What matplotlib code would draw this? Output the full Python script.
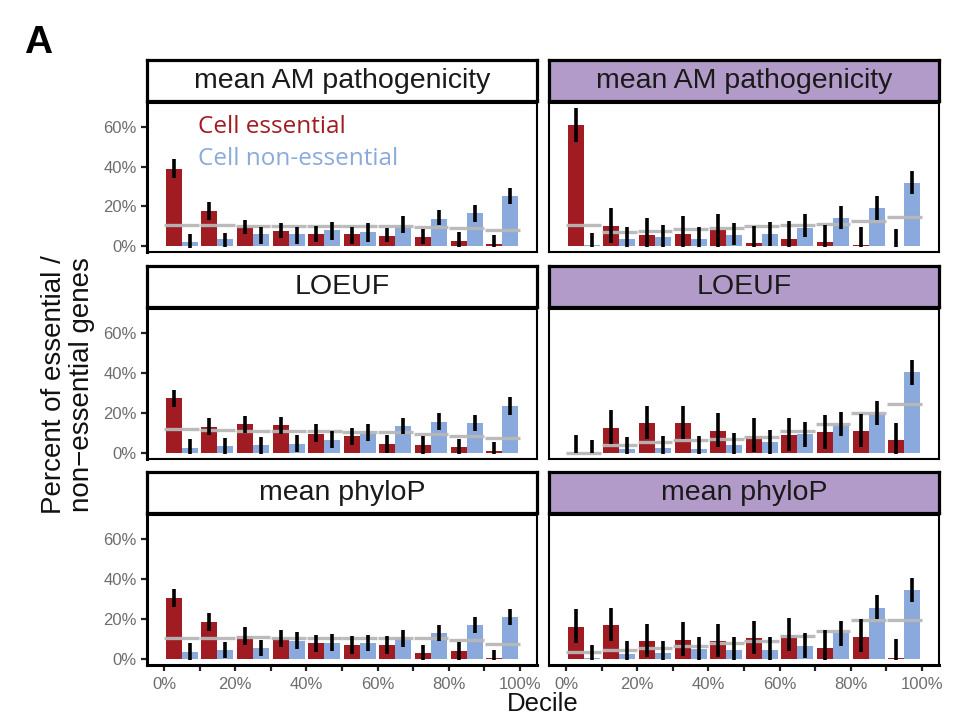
import matplotlib
matplotlib.use("Agg")
import matplotlib.pyplot as plt
import numpy as np

plt.rcParams['font.family'] = ['Liberation Sans', 'DejaVu Sans']

# ---------------- data ----------------
deciles = np.arange(10)
metrics = ["mean AM pathogenicity", "LOEUF", "mean phyloP"]
x_tick_pos = [0, 10, 20, 30, 40, 50, 60, 70, 80, 90, 100]
x_tick_labels = ["0%", "", "20%", "", "40%", "", "60%", "", "80%", "", "100%"]
y_tick_pos = [0, 20, 40, 60]
y_tick_labels = ["0%", "20%", "40%", "60%"]

# mean AM pathogenicity, white strip
am_w_ess = [39.0, 17.6, 9.8, 7.4, 6.2, 5.9, 5.0, 4.7, 2.7, 0.9]
am_w_ess_lo = [34.5, 13.1, 6.3, 3.9, 1.8, 1.0, 2.0, 0.8, -0.5, -0.5]
am_w_ess_hi = [43.7, 22.4, 13.3, 11.7, 9.9, 9.6, 9.3, 8.8, 7.0, 5.4]
am_w_non = [2.0, 3.7, 5.9, 5.9, 7.9, 6.9, 10.1, 13.8, 16.5, 25.2]
am_w_non_lo = [-0.8, -0.5, 0.9, 1.0, 3.0, 2.0, 6.8, 10.4, 12.3, 21.3]
am_w_non_hi = [6.2, 6.6, 9.6, 9.6, 12.0, 11.5, 15.1, 18.2, 20.7, 29.5]
am_w_null = [10.4, 10.4, 10.3, 10.3, 10.3, 10.2, 10.0, 9.8, 9.0, 7.9]

# mean AM pathogenicity, purple strip
am_p_ess = [61.0, 10.1, 5.4, 6.2, 7.9, 1.3, 3.7, 2.0, 0.5, 0.1]
am_p_ess_lo = [52.4, 1.7, -0.5, -0.5, -0.3, -0.5, -0.3, -0.5, -0.5, -0.5]
am_p_ess_hi = [69.7, 19.3, 14.3, 15.1, 16.4, 10.0, 12.8, 10.7, 9.6, 8.7]
am_p_non = [0.5, 3.4, 4.4, 3.5, 5.5, 5.9, 9.2, 14.1, 19.3, 31.9]
am_p_non_lo = [-0.5, -0.5, -0.3, -0.5, 0.3, 0.0, 4.5, 8.4, 13.4, 26.4]
am_p_non_hi = [6.7, 9.6, 10.4, 9.7, 11.7, 12.0, 16.3, 20.1, 25.2, 38.1]
am_p_null = [10.4, 7.1, 7.4, 8.4, 9.2, 9.9, 10.4, 11.2, 12.4, 14.8]

# LOEUF, white strip
lo_w_ess = [27.4, 13.2, 14.3, 13.8, 9.7, 8.3, 4.5, 3.8, 2.8, 1.2]
lo_w_ess_lo = [23.0, 8.8, 10.0, 9.7, 5.5, 3.8, 0.2, -0.3, -0.5, -0.3]
lo_w_ess_hi = [31.8, 17.7, 18.7, 18.3, 14.3, 12.7, 8.8, 8.3, 7.2, 5.5]
lo_w_non = [2.7, 3.5, 3.8, 4.7, 6.7, 9.7, 13.5, 15.5, 15.0, 23.7]
lo_w_non_lo = [-0.5, -0.3, -0.3, 0.5, 2.5, 6.0, 9.3, 11.7, 10.8, 19.3]
lo_w_non_hi = [7.2, 7.7, 8.0, 8.8, 10.8, 14.7, 17.7, 20.0, 19.3, 28.0]
lo_w_null = [12.2, 11.3, 11.0, 10.8, 10.8, 10.5, 10.5, 9.7, 8.3, 7.7]

# LOEUF, purple strip
lo_p_ess = [0.0, 12.7, 15.2, 15.2, 11.2, 8.7, 8.8, 10.5, 11.2, 6.5]
lo_p_ess_lo = [0.0, 4.7, 7.2, 7.2, 3.0, 0.5, 0.8, 2.2, 3.0, -0.5]
lo_p_ess_hi = [8.8, 21.7, 23.8, 23.8, 20.0, 17.5, 17.5, 19.2, 19.7, 15.2]
lo_p_non = [0.0, 1.8, 2.3, 2.0, 3.8, 5.5, 9.5, 14.2, 19.8, 40.5]
lo_p_non_lo = [0.0, -0.5, -0.5, -0.5, -0.5, -0.3, 3.0, 8.5, 13.8, 34.3]
lo_p_non_hi = [6.3, 8.0, 8.5, 8.3, 10.0, 11.7, 15.5, 20.8, 26.3, 46.7]
lo_p_null = [0.0, 3.8, 5.5, 6.3, 7.0, 8.0, 10.8, 14.3, 20.2, 24.7]

# mean phyloP, white strip
ph_w_ess = [30.8, 18.7, 11.5, 10.3, 7.8, 6.8, 7.0, 2.8, 3.8, 0.3]
ph_w_ess_lo = [26.3, 14.0, 7.0, 5.8, 3.3, 2.5, 2.5, -0.5, -0.3, -0.5]
ph_w_ess_hi = [35.3, 23.3, 15.8, 14.7, 12.2, 11.3, 11.7, 7.2, 8.3, 4.7]
ph_w_non = [3.5, 4.3, 5.3, 9.2, 8.0, 8.0, 10.3, 12.8, 17.0, 21.2]
ph_w_non_lo = [-0.5, 0.5, 1.3, 5.0, 3.8, 3.8, 6.2, 8.8, 13.0, 17.0]
ph_w_non_hi = [7.8, 8.7, 9.5, 13.3, 12.3, 12.2, 14.7, 17.2, 21.3, 25.3]
ph_w_null = [10.5, 10.5, 11.0, 10.3, 10.5, 10.5, 10.7, 10.3, 9.5, 7.5]

# mean phyloP, purple strip
ph_p_ess = [15.8, 17.0, 8.8, 9.5, 8.8, 10.5, 12.0, 5.5, 11.2, 0.5]
ph_p_ess_lo = [7.8, 8.8, 0.8, 1.7, 0.8, 2.5, 3.8, -0.5, 3.3, -0.5]
ph_p_ess_hi = [25.0, 25.8, 17.8, 18.7, 17.8, 19.2, 20.8, 14.5, 20.0, 10.0]
ph_p_non = [0.3, 2.5, 2.8, 5.0, 4.7, 4.7, 6.3, 12.8, 25.8, 34.5]
ph_p_non_lo = [-0.5, -0.5, -0.5, -0.5, -0.5, -0.5, 0.3, 6.7, 20.0, 28.5]
ph_p_non_hi = [7.0, 9.0, 9.2, 11.2, 11.2, 11.2, 12.8, 19.2, 32.0, 40.8]
ph_p_null = [3.7, 4.7, 5.3, 6.7, 8.0, 8.8, 11.7, 14.2, 19.5, 19.8]

panels = [
    [(am_w_ess, am_w_ess_lo, am_w_ess_hi, am_w_non, am_w_non_lo, am_w_non_hi, am_w_null),
     (am_p_ess, am_p_ess_lo, am_p_ess_hi, am_p_non, am_p_non_lo, am_p_non_hi, am_p_null)],
    [(lo_w_ess, lo_w_ess_lo, lo_w_ess_hi, lo_w_non, lo_w_non_lo, lo_w_non_hi, lo_w_null),
     (lo_p_ess, lo_p_ess_lo, lo_p_ess_hi, lo_p_non, lo_p_non_lo, lo_p_non_hi, lo_p_null)],
    [(ph_w_ess, ph_w_ess_lo, ph_w_ess_hi, ph_w_non, ph_w_non_lo, ph_w_non_hi, ph_w_null),
     (ph_p_ess, ph_p_ess_lo, ph_p_ess_hi, ph_p_non, ph_p_non_lo, ph_p_non_hi, ph_p_null)],
]

# ---------------- style ----------------
RED = '#a01c22'
BLUE = '#8aa9dc'
GREY = '#b8b8b8'
PURPLE = '#b29bc9'
TICKC = '#6e6e6e'

W, H = 970, 722
fig = plt.figure(figsize=(W / 100, H / 100), dpi=100)

col_x = [147, 549]
col_w = 390
panel_rows = [(103, 252), (309, 459), (515, 665)]
strip_rows = [(60, 101), (266, 307), (472, 513)]


def fr(x0, y0, x1, y1):
    return [x0 / W, 1 - y1 / H, (x1 - x0) / W, (y1 - y0) / H]


bw = 4.5
for r in range(3):
    for c in range(2):
        ess, ess_lo, ess_hi, non, non_lo, non_hi, null = panels[r][c]
        x0 = col_x[c]
        # strip
        sax = fig.add_axes(fr(x0, strip_rows[r][0], x0 + col_w, strip_rows[r][1]))
        sax.set_facecolor('white' if c == 0 else PURPLE)
        sax.set_xticks([]); sax.set_yticks([])
        for s in sax.spines.values():
            s.set_linewidth(2.3); s.set_color('black')
        sax.text(0.5, 0.5, metrics[r], ha='center', va='center', fontsize=20.5,
                 color='#1a1a1a', transform=sax.transAxes)
        # panel
        ax = fig.add_axes(fr(x0, panel_rows[r][0], x0 + col_w, panel_rows[r][1]))
        centers = deciles * 10 + 5
        ax.bar(centers - bw / 2, ess, width=bw, color=RED, zorder=2)
        ax.bar(centers + bw / 2, non, width=bw, color=BLUE, zorder=2)
        ax.hlines(null, deciles * 10 + 0.1, deciles * 10 + 9.9, color=GREY,
                  linewidth=2.4, zorder=3, alpha=0.95)
        ax.vlines(centers - bw / 2, ess_lo, ess_hi, color='black', linewidth=2.6, zorder=4)
        ax.vlines(centers + bw / 2, non_lo, non_hi, color='black', linewidth=2.6, zorder=4)
        ax.set_xlim(-4.8, 104.8)
        ax.set_ylim(-3.0, 72.2)
        for s in ax.spines.values():
            s.set_linewidth(1.5); s.set_color('black')
        if c == 0:
            ax.spines['left'].set_linewidth(2.2)
            ax.set_yticks(y_tick_pos)
            ax.set_yticklabels(y_tick_labels)
            ax.tick_params(axis='y', length=4.5, width=1.6, color='#222222',
                           labelcolor=TICKC, labelsize=12, pad=3)
        else:
            ax.set_yticks([])
        if r == 2:
            ax.spines['bottom'].set_linewidth(2.2)
            ax.set_xticks(x_tick_pos)
            ax.set_xticklabels(x_tick_labels)
            ax.tick_params(axis='x', length=4.5, width=1.6, color='#222222',
                           labelcolor=TICKC, labelsize=12, pad=4)
        else:
            ax.set_xticks([])
        if r == 0 and c == 0:
            ax.text(0.131, 0.80, "Cell essential", color=RED, fontsize=17.5,
                    family=['Open Sans', 'DejaVu Sans'], transform=ax.transAxes,
                    va='baseline', ha='left')
            ax.text(0.131, 0.585, "Cell non-essential", color=BLUE, fontsize=17.5,
                    family=['Open Sans', 'DejaVu Sans'], transform=ax.transAxes,
                    va='baseline', ha='left')

fig.text(68 / W, 1 - 385 / H, "Percent of essential /\nnon\u2212essential genes",
         rotation=90, ha='center', va='center', fontsize=20, color='#111111',
         linespacing=1.1)
fig.text(543 / W, 1 - 704 / H, "Decile", ha='center', va='center', fontsize=18.5,
         color='#111111')
fig.text(38 / W, 1 - 43 / H, "A", ha='center', va='center', fontsize=28,
         fontweight='bold', color='black')

fig.savefig("out.png", dpi=100, facecolor='white')
